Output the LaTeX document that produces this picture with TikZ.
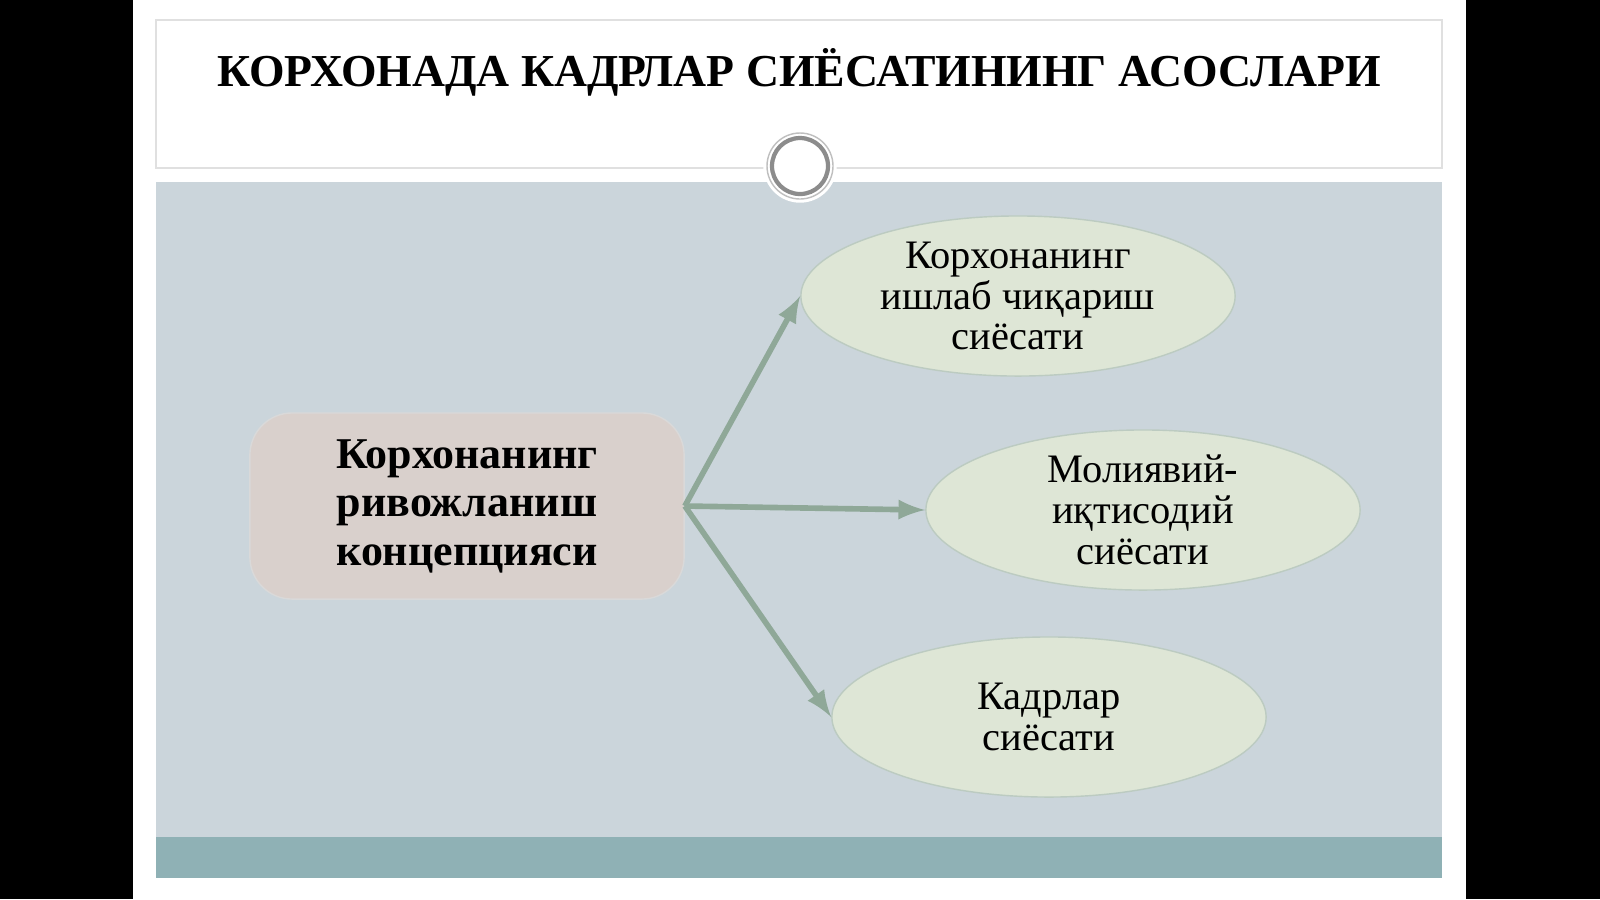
\documentclass[tikz,border=0pt]{standalone}
\usepackage{fontspec}
\setmainfont{Liberation Serif}
\usetikzlibrary{arrows,shapes.geometric}
\definecolor{bodybg}{HTML}{CBD5DB}
\definecolor{bandbg}{HTML}{8FB1B5}
\definecolor{boxbg}{HTML}{D9D0CC}
\definecolor{ellbg}{HTML}{DEE6D6}
\definecolor{linkc}{HTML}{8FA898}
\tikzset{
  concept/.style={draw=white!85!black, fill=boxbg, rounded corners=12pt, minimum width=4.34cm, minimum height=1.86cm, align=center, font=\fontsize{12.5}{13.8}\selectfont\bfseries},
  policy/.style={ellipse, draw=linkc!60, fill=ellbg, inner sep=0pt, minimum width=4.34cm, minimum height=1.6cm, align=center, font=\fontsize{11.5}{11.6}\selectfont},
  link/.style={draw=linkc, line width=1.6pt, -latex}
}
\begin{document}
\begin{tikzpicture}[x=0.01cm,y=-0.01cm]
\useasboundingbox (0,0) rectangle (1600,899);
\fill[black] (0,0) rectangle (1600,899);
\fill[white] (133,0) rectangle (1466,899);
\draw[black!12] (156,20) rectangle (1442,168);
\fill[bodybg] (156,182) rectangle (1442,837);
\fill[bandbg] (156,837) rectangle (1442,878);
\node[font=\fontsize{13}{16}\selectfont\bfseries] (title) at (799,72) {КОРХОНАДА КАДРЛАР СИЁСАТИНИНГ АСОСЛАРИ};
\filldraw[fill=white, draw=white] (800,166) circle (36);
\draw[black!45, line width=1.2pt] (800,166) circle (28);
\draw[black!25] (800,166) circle (33);

\node[concept] (core) at (467,506) {Корхонанинг\\ривожланиш\\концепцияси};
\node[policy] (prod) at (1018,296) {Корхонанинг\\ишлаб чиқариш\\сиёсати};
\node[policy] (fin) at (1143,510) {Молиявий-\\иқтисодий\\сиёсати};
\node[policy] (staff) at (1049,717) {Кадрлар\\сиёсати};

\draw[link] (core.east) -- (prod.west);
\draw[link] (core.east) -- (fin.west);
\draw[link] (core.east) -- (staff.west);
\end{tikzpicture}
\end{document}
